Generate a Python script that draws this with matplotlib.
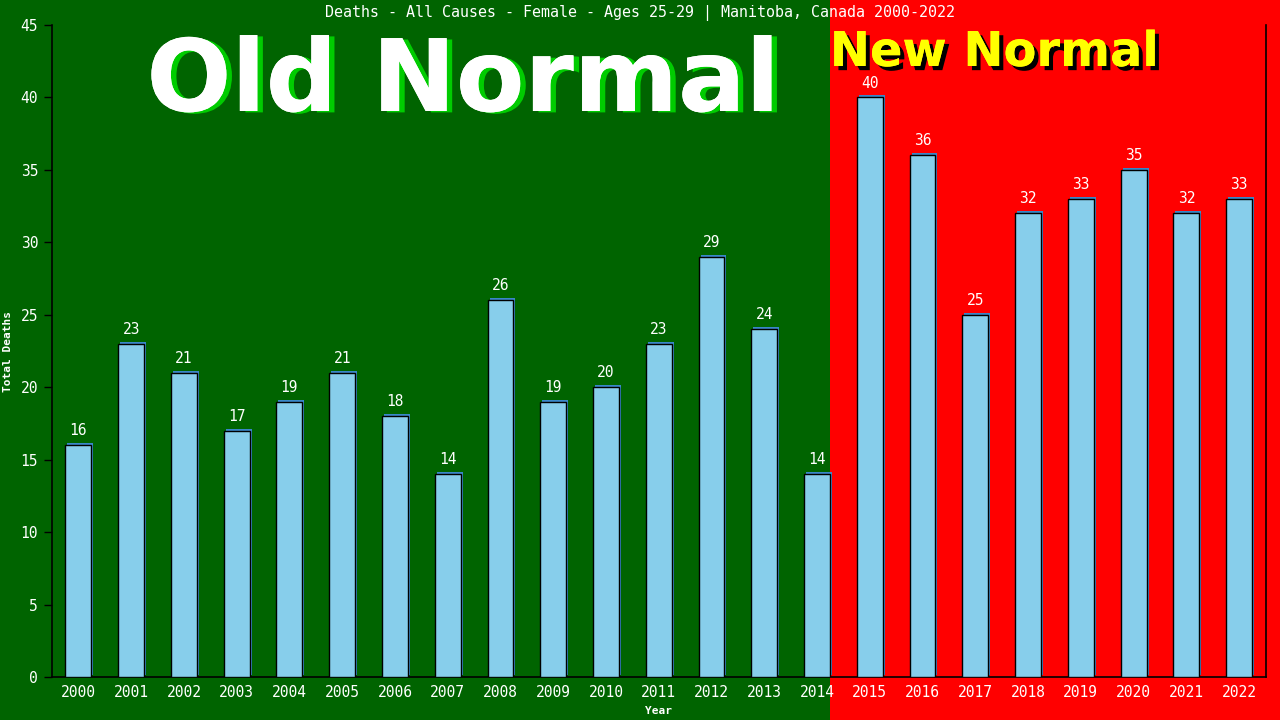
import matplotlib
matplotlib.use("Agg")
import matplotlib.pyplot as plt
import matplotlib.transforms as mtransforms
from matplotlib.patches import Rectangle
import matplotlib.patheffects as pe

years = [str(y) for y in range(2000, 2023)]
deaths = [16, 23, 21, 17, 19, 21, 18, 14, 26, 19, 20, 23, 29, 24, 14,
          40, 36, 25, 32, 33, 35, 32, 33]
title = "Deaths - All Causes - Female - Ages 25-29 | Manitoba, Canada 2000-2022"
split_index = 15  # first "New Normal" year index

GREEN = "#006400"
RED = "#ff0000"
BAR = "#87ceeb"
SHADOW = "#3a87c8"
MONO = "DejaVu Sans Mono"

fig = plt.figure(figsize=(12.8, 7.2), dpi=100, facecolor=GREEN)
ax = fig.add_axes([52 / 1280, 1 - 677 / 720, (1265.5 - 52) / 1280, (677 - 25) / 720])
ax.patch.set_alpha(0)

x = list(range(len(years)))
width = 0.49
ax.set_xlim(-0.5, len(years) - 0.5)
ax.set_ylim(0, 45)

# red background from the right edge of the last old-normal bar to figure edge
trans = mtransforms.blended_transform_factory(ax.transData, fig.transFigure)
ax.add_patch(Rectangle((split_index - 1 + width / 2, 0), 50, 1, transform=trans,
                       facecolor=RED, edgecolor="none", clip_on=False, zorder=0))

# shadow bars
offset = mtransforms.offset_copy(ax.transData, fig=fig, x=2, y=2, units="dots")
ax.bar(x, deaths, width=width, color=SHADOW, edgecolor="none", transform=offset, zorder=2)
ax.bar(x, deaths, width=width, color=BAR, edgecolor="black", linewidth=1.0, zorder=3)

for xi, v in zip(x, deaths):
    ax.annotate(str(v), (xi, v), xytext=(0, 5), textcoords="offset points",
                ha="center", va="bottom", color="white", fontsize=10.5, family=MONO, zorder=4)

ax.set_xticks(x)
ax.set_xticklabels(years, color="white", fontsize=10.5, family=MONO)
ax.tick_params(axis="x", length=0, pad=6)
ax.set_yticks(range(0, 46, 5))
ax.set_yticklabels([str(v) for v in range(0, 46, 5)], color="white", fontsize=10.5, family=MONO)
ax.tick_params(axis="y", length=6, color="black", width=1, pad=4)

for s in ["left", "bottom", "right"]:
    ax.spines[s].set_color("black")
    ax.spines[s].set_linewidth(1.2)
ax.spines["top"].set_visible(False)

ax.set_xlabel("Year", color="white", fontsize=8, family=MONO, fontweight="bold", labelpad=4)
ax.set_ylabel("Total Deaths", color="white", fontsize=8, family=MONO, fontweight="bold")
ax.yaxis.set_label_coords((13 - 52) / 1213.5, 0.5)

fig.text(640 / 1280, 1 - 13 / 720, title, ha="center", va="center", color="white",
         fontsize=10.8, family=MONO)

fig.text(463 / 1280, 1 - 111 / 720, "Old Normal", ha="center", va="baseline", color="white",
         fontsize=72, family="DejaVu Sans", fontweight="bold",
         path_effects=[pe.withSimplePatchShadow(offset=(4, -1), shadow_rgbFace="#00cc00", alpha=1),
                       pe.Normal()])

fig.text(994 / 1280, 1 - 66 / 720, "New Normal", ha="center", va="baseline", color="yellow",
         fontsize=34.5, family="DejaVu Sans", fontweight="bold",
         path_effects=[pe.withSimplePatchShadow(offset=(3, -3), shadow_rgbFace="black", alpha=1),
                       pe.Normal()])

fig.savefig("out.png", dpi=100, facecolor=GREEN)
